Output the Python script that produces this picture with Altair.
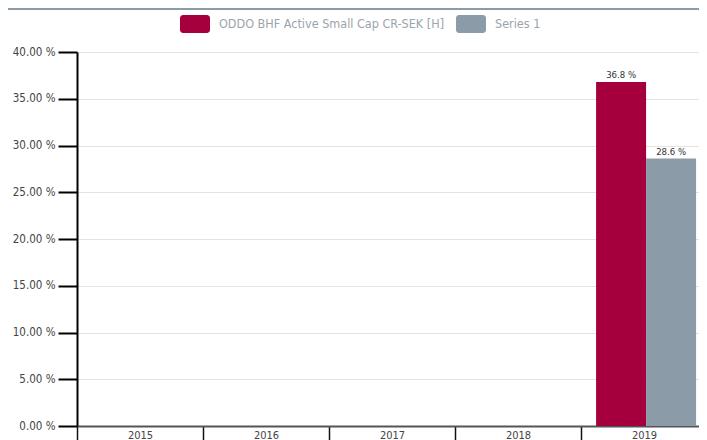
import altair as alt
import pandas as pd

years = ["2015", "2016", "2017", "2018", "2019"]
series_names = ["ODDO BHF Active Small Cap CR-SEK [H]", "Series 1"]
fund_values = [None, None, None, None, 36.8]
series1_values = [None, None, None, None, 28.6]
y_ticks = [0, 5, 10, 15, 20, 25, 30, 35, 40]
colors = ["#a5003d", "#8b9ba8"]

FONT = "DejaVu Sans Condensed, sans-serif"

rows = []
for name, vals in zip(series_names, [fund_values, series1_values]):
    for yr, v in zip(years, vals):
        if v is not None:
            rows.append({"year": yr, "series": name, "value": v, "label": f"{v:.1f} %"})
df = pd.DataFrame(rows)

W, H = 630, 374

x_enc = alt.X(
    "year:N",
    scale=alt.Scale(domain=years, paddingInner=0, paddingOuter=0),
    axis=alt.Axis(
        title=None, labelAngle=0, tickBand="extent", tickSize=20, tickColor="#111",
        tickWidth=1.5, domainColor="#555", domainWidth=2, labelPadding=-17,
        labelFont=FONT, labelFontSize=11, labelColor="#444", grid=False,
    ),
)
xo_enc = alt.XOffset(
    "series:N",
    scale=alt.Scale(domain=series_names, paddingOuter=0.26, paddingInner=0, align=0.58),
)
y_enc = alt.Y(
    "value:Q",
    scale=alt.Scale(domain=[0, 40], nice=False),
    axis=alt.Axis(
        values=y_ticks, labelExpr="format(datum.value, '.2f') + ' %'", title=None,
        tickSize=19, tickWidth=2, tickColor="#000", domainColor="#000", domainWidth=2,
        gridColor="#e3e3e3", gridWidth=1, labelFont=FONT, labelFontSize=11.5,
        labelColor="#444", labelPadding=3,
    ),
)

sym = ("M-0.8,-0.6H0.8A0.2,0.2 0 0 1 1,-0.4V0.4A0.2,0.2 0 0 1 0.8,0.6"
       "H-0.8A0.2,0.2 0 0 1 -1,0.4V-0.4A0.2,0.2 0 0 1 -0.8,-0.6Z")

color_enc = alt.Color(
    "series:N",
    scale=alt.Scale(domain=series_names, range=colors),
    legend=alt.Legend(
        title=None, orient="none", legendX=103, legendY=-43, direction="horizontal",
        symbolType=sym, symbolSize=900, symbolStrokeWidth=0, symbolOpacity=1,
        labelFont=FONT, labelFontSize=12.5, labelColor="#9ba4ac", labelLimit=0,
        columnPadding=11, labelOffset=9, padding=0,
    ),
)

banner = alt.Chart(pd.DataFrame({"a": [0]})).mark_rect(color="#8b9ba8").encode(
    x=alt.value(-69), x2=alt.value(W), y=alt.value(-44), y2=alt.value(-42)
)

bars = alt.Chart(df).mark_bar().encode(x=x_enc, xOffset=xo_enc, y=y_enc, color=color_enc)

text = alt.Chart(df).mark_text(
    dy=-2, baseline="bottom", fontSize=9.5, color="#333", font=FONT
).encode(x=x_enc, xOffset=xo_enc, y=y_enc, text="label:N")

chart = alt.layer(banner, bars, text).properties(
    width=W, height=H,
    padding={"left": 69, "top": 44, "right": -8, "bottom": 14},
    autosize=alt.AutoSizeParams(type="none"),
).configure_view(stroke=None)

chart.save("out.html", embed_options={"renderer": "svg", "actions": False})
